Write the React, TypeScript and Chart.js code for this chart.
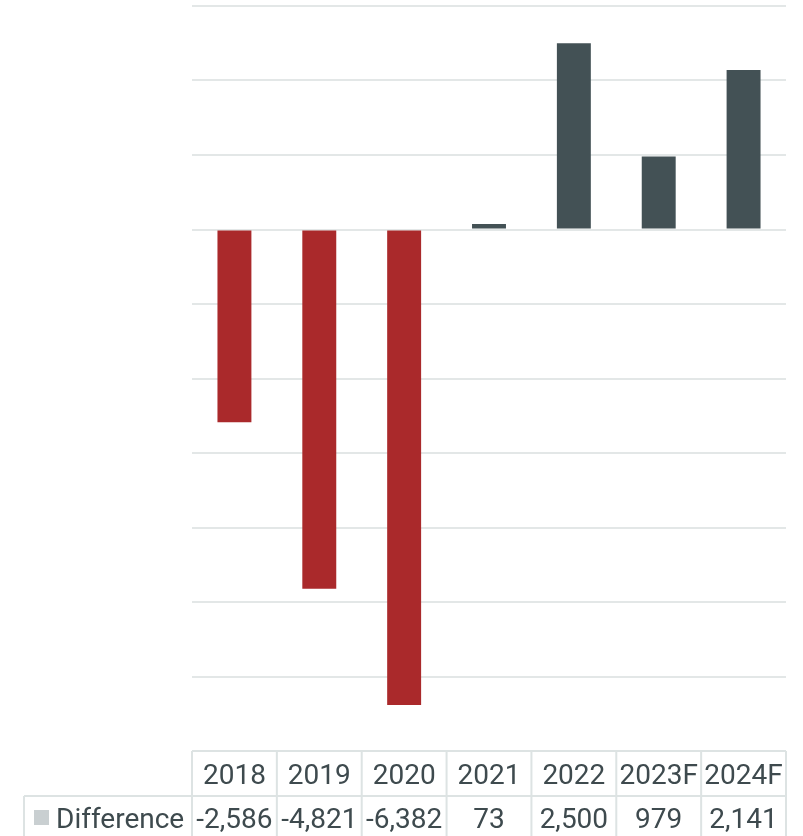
import React, { useEffect, useRef } from "react";
import { Chart, registerables } from "chart.js";

Chart.register(...registerables);

const categories: string[] = ["2018", "2019", "2020", "2021", "2022", "2023F", "2024F"];
const differenceValues: number[] = [-2586, -4821, -6382, 73, 2500, 979, 2141];
const seriesName = "Difference";

const W = 803;
const H = 836;
const NEG = "#aa292b";
const POS = "#435155";
const GRID = "#e3e7e7";
const BORDER = "#dde3e3";
const TEXT = "#3e4a4e";
const FONT = "28px Roboto";

const fmt = (v: number) => v.toLocaleString("en-US");

const tablePlugin = {
  id: "dataTable",
  afterDraw(chart: any) {
    const { ctx, chartArea, scales } = chart;
    const x = scales.x;
    const left = chartArea.left;
    const right = chartArea.right;
    const top = chartArea.bottom;
    const rowH = 45;
    const labelLeft = 24;
    const n = categories.length;
    const step = (right - left) / n;
    ctx.save();
    ctx.strokeStyle = BORDER;
    ctx.lineWidth = 2;
    ctx.beginPath();
    ctx.moveTo(left, top);
    ctx.lineTo(right, top);
    ctx.moveTo(labelLeft, top + rowH);
    ctx.lineTo(right, top + rowH);
    ctx.moveTo(labelLeft, top + 2 * rowH);
    ctx.lineTo(right, top + 2 * rowH);
    ctx.moveTo(labelLeft, top + rowH);
    ctx.lineTo(labelLeft, top + 2 * rowH);
    for (let i = 0; i <= n; i++) {
      const px = i < n ? x.getPixelForValue(i) - step / 2 : x.getPixelForValue(n - 1) + step / 2;
      ctx.moveTo(px, top);
      ctx.lineTo(px, top + 2 * rowH);
    }
    ctx.stroke();

    ctx.fillStyle = TEXT;
    ctx.font = FONT;
    ctx.textAlign = "center";
    ctx.textBaseline = "middle";
    for (let i = 0; i < n; i++) {
      const cx = x.getPixelForValue(i);
      ctx.fillText(categories[i], cx, top + rowH / 2 + 3);
      ctx.fillText(fmt(differenceValues[i]), cx, top + rowH + rowH / 2 + 2);
    }
    ctx.fillStyle = "#c9cfd1";
    ctx.fillRect(34, top + rowH + 14, 15, 15);
    ctx.fillStyle = TEXT;
    ctx.textAlign = "left";
    ctx.fillText(seriesName, 56, top + rowH + rowH / 2 + 2);
    ctx.restore();
  },
};

export default function App() {
  const ref = useRef<HTMLCanvasElement | null>(null);
  useEffect(() => {
    if (!ref.current) return;
    const chart = new Chart(ref.current, {
      type: "bar",
      data: {
        labels: categories,
        datasets: [
          {
            label: seriesName,
            data: differenceValues,
            backgroundColor: differenceValues.map((v) => (v < 0 ? NEG : POS)),
            borderWidth: 0,
            categoryPercentage: 1,
            barPercentage: 0.4,
          },
        ],
      },
      options: {
        responsive: false,
        animation: false,
        devicePixelRatio: 1,
        layout: { padding: { left: 192, right: W - 786, top: 6, bottom: H - 751 } },
        plugins: { legend: { display: false }, tooltip: { enabled: false } },
        scales: {
          x: { display: false },
          y: {
            min: -7000,
            max: 3000,
            ticks: { display: false, stepSize: 1000 },
            border: { display: false },
            grid: { color: GRID, lineWidth: 2, drawTicks: false },
          },
        },
      },
      plugins: [tablePlugin],
    });
    return () => chart.destroy();
  }, []);
  return (
    <div style={{ position: "fixed", left: 0, top: 0, width: W, height: H, background: "#fff" }}>
      <canvas ref={ref} width={W} height={H} style={{ display: "block" }} />
    </div>
  );
}
